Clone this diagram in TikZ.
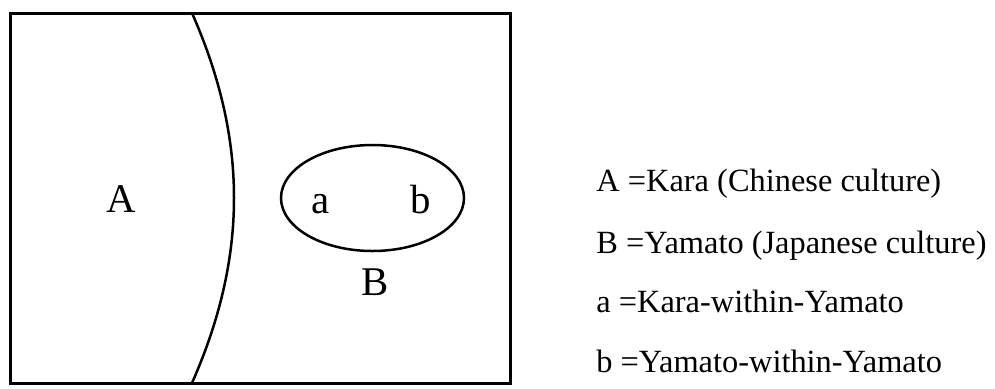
\documentclass[tikz,border=0pt]{standalone}
\usepackage{fontspec}
\setmainfont{Liberation Serif}
\usetikzlibrary{positioning,shapes.geometric}
\tikzset{
	frame/.style={draw=black,line width=1.5pt},
	border/.style={draw=black,line width=1.25pt},
	region/.style={font=\fontsize{20.4}{23}\selectfont,inner sep=0pt,anchor=base},
	legend/.style={font=\fontsize{16.2}{19}\selectfont,inner sep=0pt,anchor=base west},
}

\begin{document}
\begin{tikzpicture}[x=0.5pt,y=-0.5pt]
	\useasboundingbox (0,0) rectangle (995,388);
	% frame and the Kara/Yamato divide
	\coordinate (tl) at (10,13);
	\coordinate (br) at (510,383);
	\coordinate (top) at (192,13);
	\coordinate (bot) at (192,383);
	\draw[frame] (tl) rectangle (br);
	\draw[border] (top) .. controls (248,140) and (248,256) .. (bot);
	\node[border,ellipse,minimum width=91.5pt,minimum height=53pt,inner sep=0pt] (yamato) at (372.5,198) {};
	% region labels
	\node[region] (A) at (121,212) {A};
	\node[region] (a) at (321,213) {a};
	\node[region] (b) at (421,213) {b};
	\node[region] (B) at (375,295) {B};
	% legend
	\node[legend] (keyA) at (596,191) {A =Kara (Chinese culture)};
	\node[legend] (keyB) at (596,253) {B =Yamato (Japanese culture)};
	\node[legend] (keya) at (596,312) {a =Kara-within-Yamato};
	\node[legend] (keyb) at (596,372) {b =Yamato-within-Yamato};
\end{tikzpicture}
\end{document}
